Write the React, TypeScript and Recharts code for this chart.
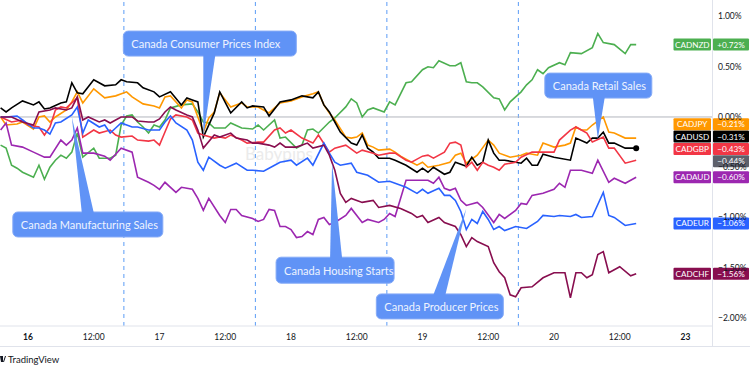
import React from 'react'
import { LineChart, Line, XAxis, YAxis, ReferenceLine, ReferenceDot } from 'recharts'

// hours since 16th 00:00 (weekend removed), percent change
const CADNZD: [number, number][] = [[-5,-0.28],[-4,-0.31],[-3,-0.48],[-2,-0.51],[-1,-0.55],[1,-0.60],[2,-0.48],[3,-0.62],[4,-0.50],[5,-0.43],[6,-0.38],[7,-0.41],[8,-0.35],[9,-0.16],[10,-0.40],[12,-0.31],[13,-0.41],[15,-0.41],[16,-0.38],[17,-0.08],[18,0.01],[19,0.02],[20,-0.05],[21,-0.10],[22,-0.16],[23,-0.08],[24,-0.10],[25,-0.03],[26,0.09],[28,0.12],[30,0.13],[31,0.05],[32,-0.05],[33,-0.06],[34,-0.11],[36,-0.11],[37,-0.06],[39,-0.11],[41,-0.12],[42,-0.08],[43,-0.13],[45,-0.03],[46,-0.21],[47,-0.20],[49,-0.31],[50,-0.28],[51,-0.13],[52,-0.12],[53,-0.16],[55,-0.05],[56,-0.01],[58,0.10],[59,0.18],[60,0.14],[61,0.00],[62,0.07],[63,0.09],[65,0.05],[66,0.15],[67,0.12],[69,0.34],[70,0.35],[72,0.47],[73,0.50],[74,0.49],[75,0.56],[77,0.51],[78,0.51],[79,0.54],[80,0.35],[81,0.34],[82,0.34],[83,0.30],[85,0.19],[86,0.18],[87,0.07],[88,0.15],[90,0.25],[91,0.32],[92,0.37],[93,0.47],[94,0.43],[95,0.49],[97,0.54],[98,0.52],[99,0.64],[101,0.63],[103,0.69],[104,0.83],[105,0.74],[107,0.72],[109,0.63],[110,0.72],[111,0.72]]
const CADJPY: [number, number][] = [[-5,0.00],[-4,-0.08],[-2,-0.07],[-1,-0.05],[1,-0.12],[2,0.00],[3,0.01],[4,-0.05],[5,0.00],[7,0.07],[8,0.15],[9,0.25],[10,0.14],[12,0.28],[14,0.19],[16,0.21],[18,0.25],[19,0.20],[21,0.13],[23,0.11],[24,0.09],[25,0.20],[26,0.21],[28,0.09],[29,0.17],[30,0.15],[31,0.00],[32,-0.15],[33,-0.01],[34,0.05],[35,0.24],[37,0.10],[39,0.14],[40,0.10],[42,0.10],[44,0.04],[46,0.14],[48,0.16],[50,0.20],[52,0.23],[53,0.25],[54,0.12],[55,0.04],[56,-0.03],[58,-0.20],[59,-0.21],[60,-0.20],[61,-0.16],[62,-0.28],[63,-0.30],[64,-0.33],[66,-0.32],[67,-0.35],[68,-0.39],[70,-0.45],[71,-0.48],[72,-0.45],[73,-0.50],[75,-0.48],[77,-0.45],[78,-0.38],[79,-0.36],[80,-0.46],[82,-0.38],[84,-0.23],[85,-0.28],[86,-0.36],[88,-0.40],[90,-0.38],[91,-0.36],[93,-0.38],[94,-0.26],[96,-0.30],[98,-0.28],[99,-0.26],[100,-0.10],[101,-0.13],[102,-0.13],[103,-0.08],[105,0.00],[106,-0.15],[107,-0.16],[109,-0.21],[111,-0.21]]
const CADUSD: [number, number][] = [[-5,0.09],[-4,0.05],[-3,0.09],[-1,0.16],[1,0.12],[2,0.15],[3,0.08],[4,0.09],[6,0.14],[7,0.15],[8,0.34],[9,0.24],[10,0.23],[12,0.37],[14,0.31],[16,0.32],[17,0.37],[18,0.35],[20,0.34],[21,0.29],[23,0.25],[24,0.20],[26,0.25],[28,0.12],[29,0.19],[30,0.17],[31,0.15],[32,-0.20],[34,0.04],[35,0.25],[37,0.04],[39,0.15],[40,0.09],[41,0.11],[43,0.10],[44,0.01],[46,0.15],[48,0.17],[50,0.21],[52,0.19],[53,0.25],[54,0.12],[55,0.05],[56,-0.05],[57,-0.15],[59,-0.26],[60,-0.28],[61,-0.18],[62,-0.31],[63,-0.35],[64,-0.41],[66,-0.41],[67,-0.43],[69,-0.48],[71,-0.55],[72,-0.51],[73,-0.55],[74,-0.50],[76,-0.57],[77,-0.55],[78,-0.45],[80,-0.49],[81,-0.40],[82,-0.48],[83,-0.45],[84,-0.23],[85,-0.36],[86,-0.43],[87,-0.43],[88,-0.44],[90,-0.46],[91,-0.41],[92,-0.48],[93,-0.48],[94,-0.37],[96,-0.40],[99,-0.43],[100,-0.21],[102,-0.26],[103,-0.21],[104,-0.21],[105,-0.15],[106,-0.26],[107,-0.26],[109,-0.31],[110,-0.31],[111,-0.31]]
const CADGBP: [number, number][] = [[-5,0.00],[-3,-0.05],[-1,-0.03],[0,-0.08],[2,-0.10],[3,-0.18],[4,-0.10],[5,0.07],[6,0.10],[7,0.09],[9,0.19],[10,-0.20],[12,-0.13],[13,-0.16],[15,-0.13],[16,-0.18],[17,-0.20],[19,-0.19],[20,-0.23],[22,-0.24],[23,-0.23],[24,-0.28],[25,-0.15],[26,-0.02],[27,0.02],[29,0.00],[30,-0.03],[31,-0.16],[32,-0.18],[34,-0.21],[35,-0.20],[36,-0.21],[37,-0.18],[39,-0.23],[40,-0.26],[42,-0.25],[43,-0.25],[45,-0.13],[46,-0.11],[47,-0.16],[48,-0.13],[50,-0.21],[52,-0.26],[53,-0.18],[55,-0.35],[56,-0.31],[58,-0.28],[60,-0.36],[61,-0.33],[63,-0.36],[64,-0.38],[66,-0.36],[67,-0.36],[69,-0.43],[70,-0.45],[72,-0.39],[73,-0.38],[74,-0.41],[76,-0.35],[77,-0.26],[78,-0.25],[79,-0.28],[80,-0.50],[81,-0.45],[82,-0.53],[83,-0.45],[84,-0.48],[85,-0.50],[86,-0.53],[87,-0.47],[89,-0.45],[90,-0.40],[92,-0.35],[94,-0.35],[96,-0.35],[97,-0.23],[99,-0.13],[100,-0.10],[101,-0.13],[102,-0.16],[103,-0.25],[105,-0.20],[106,-0.31],[107,-0.31],[109,-0.46],[111,-0.43]]
const CADAUD: [number, number][] = [[-5,-0.13],[-4,-0.06],[-3,-0.28],[-1,-0.30],[1,-0.35],[3,-0.40],[4,-0.40],[6,-0.23],[7,-0.28],[8,-0.23],[9,-0.11],[10,-0.36],[12,-0.36],[14,-0.39],[15,-0.43],[17,-0.31],[19,-0.35],[20,-0.60],[22,-0.65],[23,-0.68],[24,-0.72],[25,-0.65],[27,-0.75],[28,-0.70],[30,-0.72],[31,-0.81],[32,-0.93],[33,-0.81],[35,-0.98],[36,-1.05],[37,-0.92],[38,-0.92],[39,-0.98],[41,-1.01],[42,-1.04],[43,-1.02],[44,-0.92],[45,-0.93],[46,-1.09],[47,-1.09],[48,-1.12],[49,-1.20],[50,-1.19],[51,-1.14],[52,-1.17],[53,-1.02],[54,-1.00],[55,-1.07],[56,-1.05],[58,-0.98],[59,-0.91],[61,-1.05],[62,-1.02],[64,-1.05],[65,-1.02],[66,-0.96],[67,-0.99],[69,-0.63],[71,-0.63],[73,-0.63],[74,-0.66],[75,-0.60],[76,-0.71],[77,-0.73],[78,-0.71],[79,-0.83],[80,-0.88],[82,-0.85],[83,-0.90],[85,-1.05],[86,-0.97],[87,-1.01],[89,-0.93],[90,-0.86],[91,-0.87],[92,-0.78],[94,-0.76],[96,-0.72],[97,-0.66],[98,-0.70],[99,-0.53],[101,-0.53],[103,-0.56],[104,-0.43],[106,-0.65],[107,-0.61],[109,-0.66],[111,-0.60]]
const CADEUR: [number, number][] = [[-5,0.00],[-4,0.00],[-2,0.01],[-1,-0.03],[1,-0.11],[2,-0.11],[3,-0.13],[4,-0.17],[5,-0.06],[6,-0.05],[8,0.02],[9,0.10],[10,-0.16],[11,-0.03],[13,-0.10],[14,-0.08],[15,-0.16],[16,-0.11],[17,-0.06],[19,-0.10],[20,-0.10],[22,-0.13],[24,-0.13],[25,-0.05],[26,0.01],[27,-0.06],[29,-0.13],[30,-0.23],[31,-0.45],[32,-0.53],[33,-0.40],[35,-0.48],[36,-0.51],[38,-0.46],[40,-0.53],[41,-0.53],[43,-0.54],[45,-0.48],[46,-0.45],[48,-0.43],[49,-0.48],[51,-0.41],[52,-0.48],[54,-0.26],[55,-0.36],[56,-0.45],[57,-0.48],[59,-0.46],[60,-0.55],[62,-0.58],[64,-0.65],[66,-0.64],[67,-0.66],[69,-0.70],[71,-0.76],[72,-0.72],[73,-0.76],[75,-0.71],[76,-0.78],[77,-0.78],[78,-0.83],[79,-0.94],[80,-1.12],[81,-1.02],[82,-1.06],[83,-0.94],[84,-1.02],[85,-1.12],[86,-1.09],[87,-1.13],[89,-1.09],[91,-1.11],[93,-1.04],[94,-0.98],[96,-0.99],[97,-0.98],[99,-0.99],[100,-0.97],[101,-1.00],[103,-0.99],[105,-0.75],[106,-0.98],[107,-1.00],[109,-1.08],[111,-1.06]]
const CADCHF: [number, number][] = [[-5,0.00],[-3,0.00],[-1,-0.05],[1,-0.08],[2,0.05],[4,0.07],[5,0.09],[7,0.07],[8,0.09],[9,0.20],[10,-0.03],[11,0.00],[13,-0.05],[14,-0.03],[15,-0.06],[16,-0.03],[17,0.00],[19,0.00],[20,-0.04],[22,-0.05],[23,-0.05],[24,-0.02],[25,0.05],[26,0.10],[27,0.07],[29,0.02],[30,0.00],[31,-0.13],[32,-0.31],[34,-0.18],[35,-0.20],[37,-0.16],[38,-0.21],[40,-0.23],[41,-0.26],[42,-0.26],[44,-0.28],[45,-0.30],[46,-0.26],[47,-0.30],[49,-0.30],[51,-0.26],[52,-0.31],[54,-0.28],[55,-0.38],[56,-0.53],[57,-0.76],[58,-0.85],[59,-0.81],[61,-0.85],[63,-0.83],[64,-0.90],[66,-0.88],[68,-0.91],[70,-0.96],[71,-1.00],[72,-0.98],[73,-1.05],[75,-1.00],[76,-1.05],[78,-1.09],[79,-1.17],[80,-1.29],[81,-1.20],[82,-1.24],[84,-1.29],[85,-1.45],[86,-1.54],[87,-1.60],[88,-1.77],[89,-1.79],[90,-1.70],[92,-1.69],[94,-1.60],[96,-1.55],[98,-1.55],[99,-1.80],[100,-1.55],[101,-1.55],[102,-1.60],[103,-1.57],[104,-1.37],[105,-1.34],[106,-1.55],[108,-1.49],[110,-1.58],[111,-1.56]]

// the unnamed grey price tag on the scale
const EXTRA_VALUE = -0.44

const X_TICKS = [0, 12, 24, 36, 48, 60, 72, 84, 96, 108, 120]
const X_LABELS = ['16', '12:00', '17', '12:00', '18', '12:00', '19', '12:00', '20', '12:00', '23']
const X_BOLD = ['16', '23']
const Y_TICKS = [1, 0.5, 0, -0.5, -1, -1.5, -2]
const SESSION_BREAKS = [17.5, 41.5, 65.5, 89.5]

const CALLOUT_TEXT = ['Canada Consumer Prices Index', 'Canada Manufacturing Sales', 'Canada Housing Starts', 'Canada Producer Prices', 'Canada Retail Sales']
const CALLOUT_AT: [number, number][] = [[32, -0.20], [8, 0.0], [55.5, -0.46], [80, -0.91], [104, -0.22]]

const SERIES = [
  { name: 'CADNZD', data: CADNZD, color: '#4caf50' },
  { name: 'CADJPY', data: CADJPY, color: '#ff9800' },
  { name: 'CADUSD', data: CADUSD, color: '#000000' },
  { name: 'CADGBP', data: CADGBP, color: '#f23645' },
  { name: 'CADAUD', data: CADAUD, color: '#9c27b0' },
  { name: 'CADEUR', data: CADEUR, color: '#2962ff' },
  { name: 'CADCHF', data: CADCHF, color: '#880e4f' },
]

// layout
const FONT = 'Lato, "Noto Sans", sans-serif'
const CHART_W = 750
const CHART_H = 346
const X_AXIS_H = 20
const Y_AXIS_W = 38
const PLOT_RIGHT = CHART_W - Y_AXIS_W
const PLOT_BOTTOM = CHART_H - X_AXIS_H
const X_DOMAIN: [number, number] = [-5.11, 124.84]
const Y_DOMAIN: [number, number] = [-2.08, 1.164]
const PX_PER_PCT = PLOT_BOTTOM / (Y_DOMAIN[1] - Y_DOMAIN[0])
const TAG_H = 12
const TAG_GAP = 12.3 / PX_PER_PCT
const GRID = '#e0e3eb'

// box placement relative to the pointer tip: dx, dy, w, h, base offset, side
const CALLOUT_BOX = [
  { dx: -80, dy: -106, w: 173, h: 25, base: 80, side: 'bottom' },
  { dx: -59, dy: 95, w: 150, h: 25, base: 69, side: 'top' },
  { dx: -56, dy: 94, w: 118, h: 26, base: 54, side: 'top' },
  { dx: -90, dy: 85.5, w: 127, h: 25, base: 57, side: 'top' },
  { dx: -53, dy: -66, w: 107, h: 25, base: 48, side: 'bottom' },
]

const fmtPct = (v: number, plus: boolean) => {
  const sign = v < -0.00001 ? '\u2212' : plus && v > 0 ? '+' : ''
  return `${sign}${Math.abs(v).toFixed(2)}%`
}

// price tags on the right scale, pushed up when they would overlap
const tags = (() => {
  const list = [
    ...SERIES.map(s => ({ name: s.name, color: s.color, value: s.data[s.data.length - 1][1] })),
    { name: '', color: '#5d606b', value: EXTRA_VALUE },
  ].sort((a, b) => a.value - b.value)
  let prev = -Infinity
  return list.map(tg => {
    const pos = Math.max(tg.value, prev + TAG_GAP)
    prev = pos
    return { ...tg, pos }
  })
})()

const lastT = CADUSD[CADUSD.length - 1][0]

function XTick({ x, payload }: any) {
  const label = X_LABELS[X_TICKS.indexOf(payload.value)]
  return (
    <text x={x} y={PLOT_BOTTOM + 10.7} textAnchor="middle" dominantBaseline="central"
      fontSize={8.5} fontFamily={FONT} fill="#131722" fontWeight={X_BOLD.includes(label) ? 700 : 400}>
      {label}
    </text>
  )
}

function YTick({ y, payload }: any) {
  return (
    <text x={PLOT_RIGHT + 6} y={y} dominantBaseline="central" fontSize={8.5} fontFamily={FONT} fill="#131722">
      {fmtPct(payload.value, false)}
    </text>
  )
}

function Callout(props: any, i: number) {
  const { cx, cy } = props
  const b = CALLOUT_BOX[i]
  const x = cx + b.dx
  const y = cy + b.dy
  const edge = b.side === 'bottom' ? y + b.h - 1 : y + 1
  const bx = x + b.base
  return (
    <g>
      <rect x={x} y={y} width={b.w} height={b.h} rx={5} fill="#6093f6" stroke="#86abf7" strokeWidth={1} />
      <polygon points={`${bx},${edge} ${bx + 12},${edge} ${cx},${cy}`} fill="#6093f6" />
      <text x={x + 8} y={y + b.h / 2} dominantBaseline="central" fontSize={11} fontFamily={FONT} fill="#eef3ff">
        {CALLOUT_TEXT[i]}
      </text>
    </g>
  )
}

function Tag(props: any, tg: { name: string; color: string; value: number }) {
  const { cy } = props
  const y = cy - TAG_H / 2
  return (
    <g>
      {tg.name && (
        <>
          <rect x={PLOT_RIGHT - 38.5} y={y} width={37.5} height={TAG_H} rx={1} fill={tg.color} />
          <text x={PLOT_RIGHT - 19.75} y={cy} textAnchor="middle" dominantBaseline="central" fontSize={8.2} fontFamily={FONT} fill="#fff">
            {tg.name}
          </text>
        </>
      )}
      <rect x={PLOT_RIGHT + 1} y={y} width={36} height={TAG_H} rx={1} fill={tg.color} />
      <text x={PLOT_RIGHT + 19} y={cy} textAnchor="middle" dominantBaseline="central" fontSize={8.2} fontFamily={FONT} fill="#fff">
        {fmtPct(tg.value, true)}
      </text>
    </g>
  )
}

export default function App() {
  return (
    <div style={{ position: 'absolute', left: 0, top: 0, width: 750, height: 372, background: '#fff', overflow: 'hidden', fontFamily: FONT }}>
      <div style={{ position: 'absolute', left: 245, top: 145, fontSize: 17, lineHeight: '17px', color: '#ebebeb' }}>Babypips</div>
      <div style={{ position: 'absolute', left: 0, top: 0 }}>
        <LineChart width={CHART_W} height={CHART_H} margin={{ top: 0, right: 0, bottom: 0, left: 0 }}>
          <XAxis type="number" dataKey="t" domain={X_DOMAIN} allowDataOverflow ticks={X_TICKS} interval={0}
            height={X_AXIS_H} axisLine={{ stroke: GRID }} tickLine={false} tick={<XTick />} />
          <YAxis type="number" orientation="right" width={Y_AXIS_W} domain={Y_DOMAIN} allowDataOverflow ticks={Y_TICKS}
            interval={0} axisLine={false} tickLine={false} tick={<YTick />} />
          {SESSION_BREAKS.map(x => (
            <ReferenceLine key={x} x={x} stroke="#5b9cf6" strokeDasharray="4 4" strokeWidth={1} />
          ))}
          <ReferenceLine y={0} stroke="#b2b5be" strokeWidth={1} />
          {SERIES.map(s => (
            <Line key={s.name} data={s.data.map(([t, v]) => ({ t, v }))} dataKey="v" type="linear"
              stroke={s.color} strokeWidth={1.6} dot={false} activeDot={false} isAnimationActive={false} />
          ))}
          <ReferenceDot x={lastT} y={CADUSD[CADUSD.length - 1][1]} r={3} fill="#000" stroke="none" zIndex={1500} />
          {CALLOUT_AT.map(([t, v], i) => (
            <ReferenceDot key={i} x={t} y={v} r={1} zIndex={1600} shape={(p: any) => Callout(p, i)} />
          ))}
          {tags.map(tg => (
            <ReferenceDot key={tg.name || 'extra'} x={lastT} y={tg.pos} r={1} zIndex={1700} shape={(p: any) => Tag(p, tg)} />
          ))}
        </LineChart>
      </div>
      <div style={{ position: 'absolute', left: PLOT_RIGHT, top: 0, width: 1, height: CHART_H + 1, background: GRID }} />
      <div style={{ position: 'absolute', left: 0, top: CHART_H, width: 750, height: 1, background: GRID }} />
      <div style={{ position: 'absolute', left: 0, top: 353, height: 12, display: 'flex', alignItems: 'center', fontSize: 9.5, color: '#131722' }}>
        <svg width={6} height={8} style={{ marginRight: 2 }}>
          <path d="M0 1 H3 V7 H1 Z M3 7 L5 1 H6 L4 7 Z" fill="#131722" />
        </svg>
        TradingView
      </div>
    </div>
  )
}
